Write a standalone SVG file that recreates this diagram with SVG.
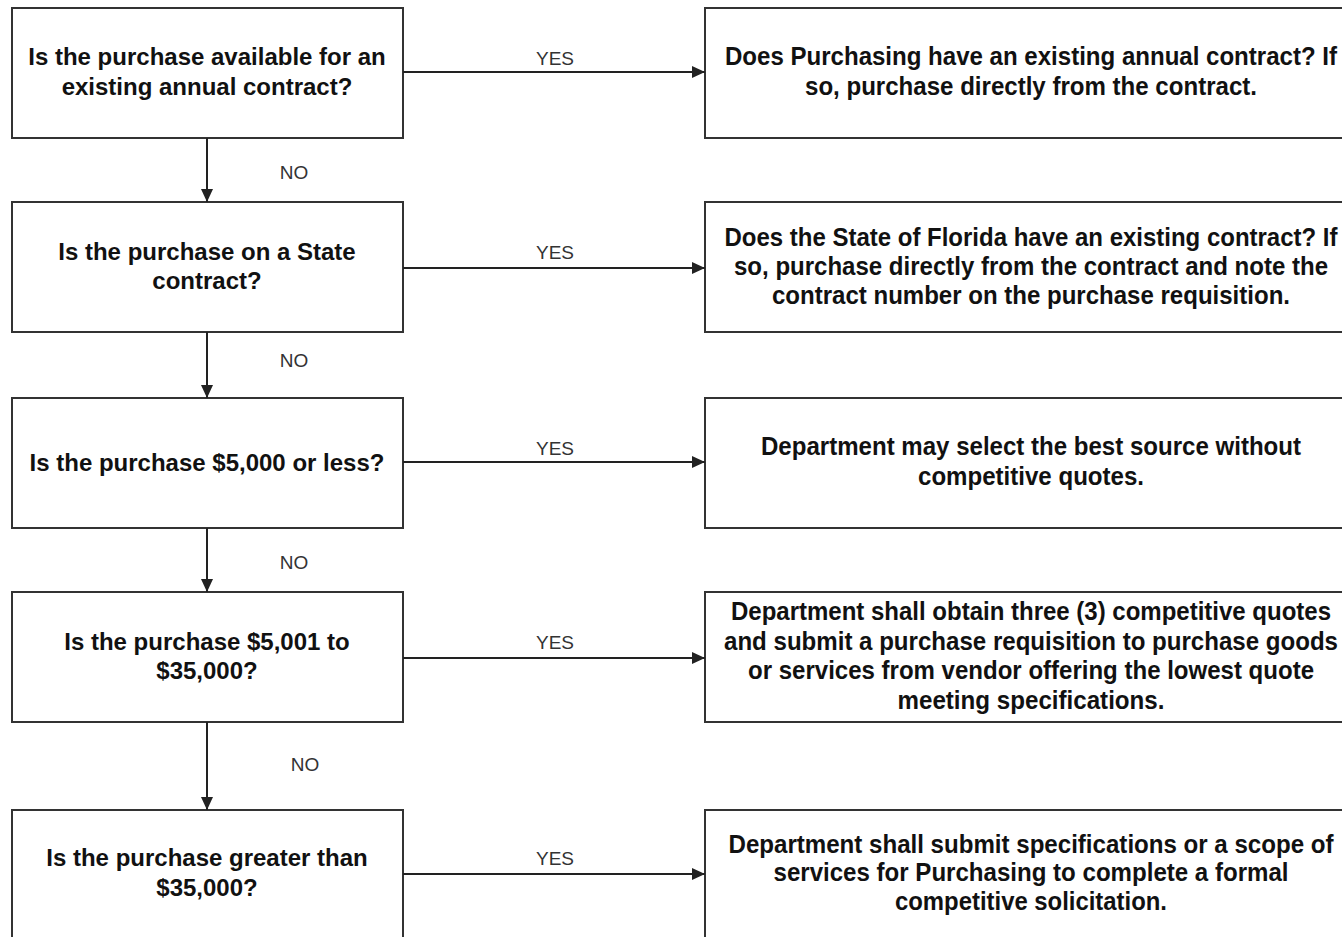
<svg xmlns="http://www.w3.org/2000/svg" width="1342" height="937" viewBox="0 0 1342 937">
<defs>
<marker id="arr" markerUnits="userSpaceOnUse" markerWidth="13" markerHeight="12" refX="13" refY="6" orient="auto">
<path d="M0,0 L13,6 L0,12 z" fill="#222"/>
</marker>
<style>
.box{fill:#fff;stroke:#333;stroke-width:2}
.q{font-family:"Liberation Sans",Arial,sans-serif;font-weight:bold;font-size:24px;fill:#111;text-anchor:middle}
.a{font-family:"Liberation Sans",Arial,sans-serif;font-weight:bold;font-size:25px;fill:#111;text-anchor:middle}
.lbl{font-family:"Liberation Sans",Arial,sans-serif;font-size:19px;fill:#333;text-anchor:middle}
.c{stroke:#222;stroke-width:2;fill:none;marker-end:url(#arr)}
</style>
</defs>
<rect width="1342" height="937" fill="#fff"/>

<g id="q1"><rect class="box" x="12" y="8" width="391" height="130"/>
<text class="q" x="207" y="65">Is the purchase available for an</text>
<text class="q" x="207" y="95">existing annual contract?</text></g>
<g id="q2"><rect class="box" x="12" y="202" width="391" height="130"/>
<text class="q" x="207" y="260">Is the purchase on a State</text>
<text class="q" x="207" y="289">contract?</text></g>
<g id="q3"><rect class="box" x="12" y="398" width="391" height="130"/>
<text class="q" x="207" y="471">Is the purchase $5,000 or less?</text></g>
<g id="q4"><rect class="box" x="12" y="592" width="391" height="130"/>
<text class="q" x="207" y="650">Is the purchase $5,001 to</text>
<text class="q" x="207" y="679">$35,000?</text></g>
<g id="q5"><rect class="box" x="12" y="810" width="391" height="132"/>
<text class="q" x="207" y="866">Is the purchase greater than</text>
<text class="q" x="207" y="896">$35,000?</text></g>

<g id="a1"><rect class="box" x="705" y="8" width="660" height="130"/>
<text class="a" x="1031" y="65" textLength="612" lengthAdjust="spacingAndGlyphs">Does Purchasing have an existing annual contract? If</text>
<text class="a" x="1031" y="95" textLength="452" lengthAdjust="spacingAndGlyphs">so, purchase directly from the contract.</text></g>
<g id="a2"><rect class="box" x="705" y="202" width="660" height="130"/>
<text class="a" x="1031" y="246" textLength="613" lengthAdjust="spacingAndGlyphs">Does the State of Florida have an existing contract? If</text>
<text class="a" x="1031" y="275" textLength="594" lengthAdjust="spacingAndGlyphs">so, purchase directly from the contract and note the</text>
<text class="a" x="1031" y="304" textLength="518" lengthAdjust="spacingAndGlyphs">contract number on the purchase requisition.</text></g>
<g id="a3"><rect class="box" x="705" y="398" width="660" height="130"/>
<text class="a" x="1031" y="455" textLength="540" lengthAdjust="spacingAndGlyphs">Department may select the best source without</text>
<text class="a" x="1031" y="485" textLength="226" lengthAdjust="spacingAndGlyphs">competitive quotes.</text></g>
<g id="a4"><rect class="box" x="705" y="592" width="660" height="130"/>
<text class="a" x="1031" y="620" textLength="600" lengthAdjust="spacingAndGlyphs">Department shall obtain three (3) competitive quotes</text>
<text class="a" x="1031" y="650" textLength="614" lengthAdjust="spacingAndGlyphs">and submit a purchase requisition to purchase goods</text>
<text class="a" x="1031" y="679" textLength="566" lengthAdjust="spacingAndGlyphs">or services from vendor offering the lowest quote</text>
<text class="a" x="1031" y="709" textLength="267" lengthAdjust="spacingAndGlyphs">meeting specifications.</text></g>
<g id="a5"><rect class="box" x="705" y="810" width="660" height="132"/>
<text class="a" x="1031" y="853" textLength="605" lengthAdjust="spacingAndGlyphs">Department shall submit specifications or a scope of</text>
<text class="a" x="1031" y="881" textLength="515" lengthAdjust="spacingAndGlyphs">services for Purchasing to complete a formal</text>
<text class="a" x="1031" y="910" textLength="272" lengthAdjust="spacingAndGlyphs">competitive solicitation.</text></g>

<g id="connectors">
<line class="c" x1="403" y1="72" x2="705" y2="72"/>
<line class="c" x1="403" y1="268" x2="705" y2="268"/>
<line class="c" x1="403" y1="462" x2="705" y2="462"/>
<line class="c" x1="403" y1="658" x2="705" y2="658"/>
<line class="c" x1="403" y1="874" x2="705" y2="874"/>
<line class="c" x1="207" y1="138" x2="207" y2="202"/>
<line class="c" x1="207" y1="332" x2="207" y2="398"/>
<line class="c" x1="207" y1="528" x2="207" y2="592"/>
<line class="c" x1="207" y1="722" x2="207" y2="810"/>
<text class="lbl" x="555" y="65">YES</text>
<text class="lbl" x="555" y="259">YES</text>
<text class="lbl" x="555" y="455">YES</text>
<text class="lbl" x="555" y="649">YES</text>
<text class="lbl" x="555" y="865">YES</text>
<text class="lbl" x="294" y="179">NO</text>
<text class="lbl" x="294" y="367">NO</text>
<text class="lbl" x="294" y="569">NO</text>
<text class="lbl" x="305" y="771">NO</text>
</g>
</svg>
